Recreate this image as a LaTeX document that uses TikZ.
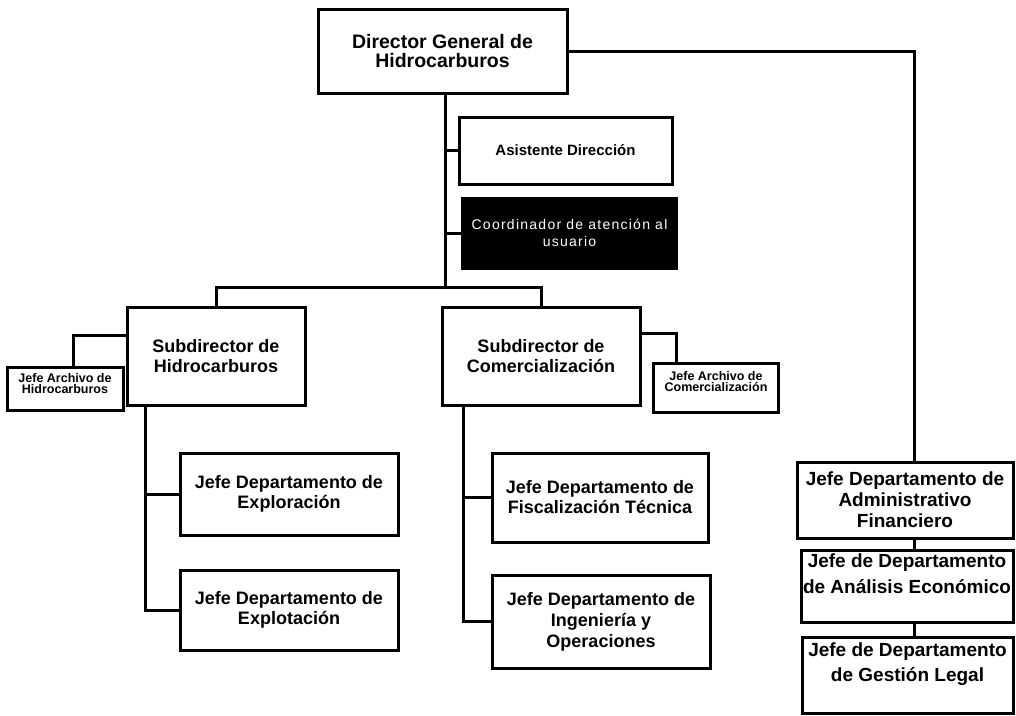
\documentclass[tikz,border=0pt]{standalone}
\usepackage{fontspec}
\setmainfont{Liberation Sans}
\begin{document}
\begin{tikzpicture}[x=1pt,y=-1pt,line width=3pt,
  box/.style={draw=black,line width=3pt,inner sep=0pt,align=center},
  dirf/.style={font=\fontsize{19.5}{19}\selectfont\bfseries},
  midf/.style={font=\fontsize{18}{20}\selectfont\bfseries},
  asisf/.style={font=\fontsize{15}{17}\selectfont\bfseries},
  coordf/.style={font=\fontsize{14}{17}\selectfont\addfontfeature{LetterSpace=9}},
  archf/.style={font=\fontsize{12.5}{11}\selectfont\bfseries,inner sep=0pt,align=center},
  rcolf/.style={font=\fontsize{19}{21}\selectfont\bfseries},
  txtf/.style={inner sep=0pt,align=center}]
\useasboundingbox (0,0) rectangle (1016,715);

% boxes
\node[box,dirf,minimum width=249,minimum height=84] (dir) at (442.5,51) {Director General de\\Hidrocarburos};
\node[box,asisf,minimum width=213,minimum height=67] (asis) at (565.5,150.5) {Asistente Dirección};
\node[box,coordf,fill=black,text=white,minimum width=214,minimum height=70] (coord) at (569.5,233) {Coordinador de atención al\\usuario};

\node[box,midf,minimum width=178,minimum height=98] (sh) at (216,356) {Subdirector de\\Hidrocarburos};
\node[box,midf,minimum width=198,minimum height=98] (sc) at (541,356) {Subdirector de\\Comercialización};

\node[box,minimum width=116,minimum height=43] (ah) at (65,388.5) {};
\node[archf] (aht) at ([yshift=4.5pt]ah.center) {Jefe Archivo de\\Hidrocarburos};
\node[box,minimum width=125,minimum height=49] (ac) at (716,387.5) {};
\node[archf] (act) at ([yshift=6pt]ac.center) {Jefe Archivo de\\Comercialización};

\node[box,midf,minimum width=218,minimum height=82] (exa) at (289,494) {Jefe Departamento de\\Exploración};
\node[box,midf,minimum width=218,minimum height=80] (exb) at (289,610) {Jefe Departamento de\\Explotación};
\node[box,midf,minimum width=216,minimum height=89] (fis) at (600,497.5) {Jefe Departamento de\\Fiscalización Técnica};
\node[box,font=\fontsize{18}{21}\selectfont\bfseries,minimum width=218,minimum height=93] (ing) at (601,621.5) {Jefe Departamento de\\Ingeniería y\\Operaciones};

\node[box,rcolf,minimum width=216,minimum height=76] (adm) at (905,500) {Jefe Departamento de\\Administrativo\\Financiero};
\node[box,minimum width=212,minimum height=72] (ana) at (907,586) {};
\node[txtf,anchor=north,font=\fontsize{19}{26}\selectfont\bfseries] (anat) at ([yshift=-4pt]ana.north) {Jefe de Departamento\\de Análisis Económico};
\node[box,minimum width=211,minimum height=76] (ges) at (907.5,675) {};
\node[txtf,anchor=north,font=\fontsize{19}{25}\selectfont\bfseries] (gest) at ([yshift=-6pt]ges.north) {Jefe de Departamento\\de Gestión Legal};

% connectors
\coordinate (rx) at (914,0);
\draw (dir.east) -| (rx |- adm.north);
\draw (rx |- adm.south) -- (rx |- ana.north);
\draw (rx |- ana.south) -- (rx |- ges.north);

\coordinate (bar) at (0,287);
\coordinate (tk) at ([xshift=2.5pt]dir.south);
\draw (tk) -- (tk |- bar);
\draw (tk |- asis.west) -- (asis.west);
\draw (tk |- coord.west) -- (coord.west);
\draw (sh.north) -- (sh.north |- bar) -- (sc.north |- bar) -- (sc.north);

\draw ([xshift=8pt]ah.north) |- ([yshift=21pt]sh.west);
\draw ([yshift=23pt]sc.east) -| ([xshift=-40pt]ac.north);

\coordinate (hv) at ([xshift=-71pt]sh.south);
\draw (hv) |- (exb.west);
\draw (hv |- exa.west) -- (exa.west);

\coordinate (cv) at ([xshift=-78pt]sc.south);
\draw (cv) |- (ing.west);
\draw (cv |- fis.west) -- (fis.west);
\end{tikzpicture}
\end{document}
